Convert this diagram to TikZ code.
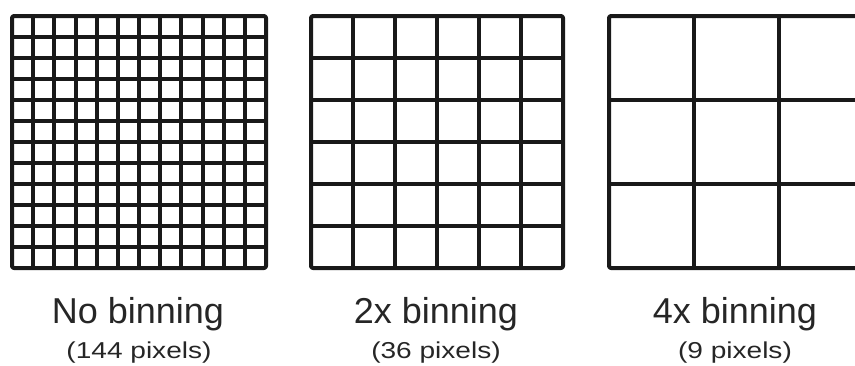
\documentclass[tikz,border=0pt]{standalone}
\usepackage{fontspec}
\setmainfont{Liberation Sans}
\begin{document}
\begin{tikzpicture}[x=1pt,y=-1pt,
  gridline/.style={line width=4pt,line join=round,black!90},
  title/.style={anchor=base,inner sep=0pt,text=black!85,font=\fontsize{36}{36}\selectfont},
  sub/.style={anchor=base,inner sep=0pt,text=black!85,font=\fontsize{23}{23}\selectfont}]
\useasboundingbox (0,0) rectangle (855,365);
\clip (0,0) rectangle (855,365);
% grid 1: 12x12
\foreach \i in {1,...,11}{
  \draw[gridline] ({12+\i*254/12},16) -- ({12+\i*254/12},268);
  \draw[gridline] (12,{16+\i*252/12}) -- (266,{16+\i*252/12});
}
\draw[gridline,rounded corners=2pt] (12,16) rectangle (266,268);
% grid 2: 6x6
\foreach \i in {1,...,5}{
  \draw[gridline] ({311+\i*252/6},16) -- ({311+\i*252/6},268);
  \draw[gridline] (311,{16+\i*252/6}) -- (563,{16+\i*252/6});
}
\draw[gridline,rounded corners=2pt] (311,16) rectangle (563,268);
% grid 3: 3x3 (cut at right edge)
\foreach \i in {1,2}{
  \draw[gridline] ({609+\i*85},16) -- ({609+\i*85},268);
  \draw[gridline] (609,{16+\i*84}) -- (870,{16+\i*84});
}
\draw[gridline,rounded corners=2pt] (609,16) rectangle (864,268);
% labels
\node[title] (t1) at (138,323) {No binning};
\node[sub] (s1) at (139,358) {\scalebox{1.22}[1]{(144 pixels)}};
\node[title] (t2) at (436,323) {2x binning};
\node[sub] (s2) at (436,358) {\scalebox{1.22}[1]{(36 pixels)}};
\node[title] (t3) at (735,323) {4x binning};
\node[sub] (s3) at (735,358) {\scalebox{1.22}[1]{(9 pixels)}};
\end{tikzpicture}
\end{document}
